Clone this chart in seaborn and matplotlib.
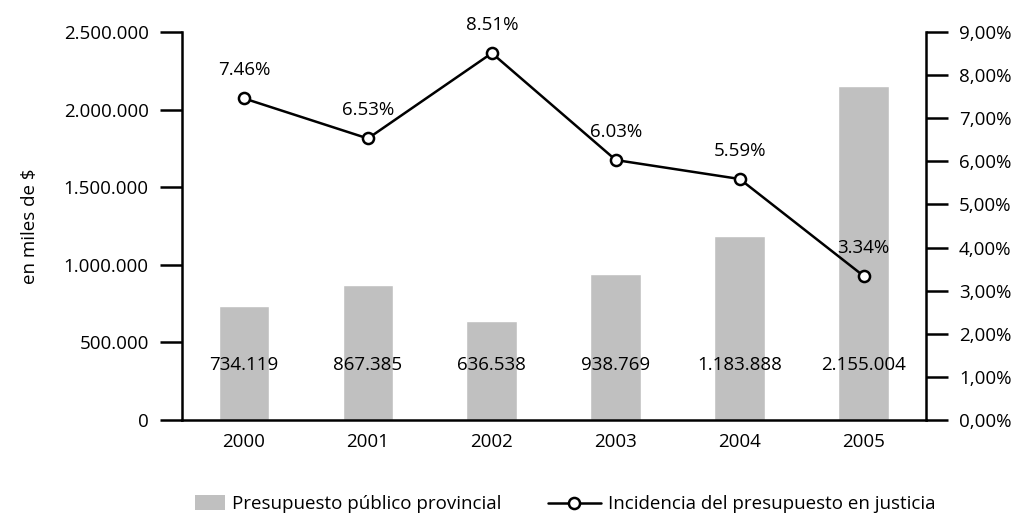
import matplotlib
matplotlib.use('Agg')
import matplotlib.pyplot as plt
import seaborn as sns
import numpy as np
import pandas as pd
from matplotlib.patches import Patch
from matplotlib.lines import Line2D

# data
years = ['2000', '2001', '2002', '2003', '2004', '2005']
presupuesto = [734119, 867385, 636538, 938769, 1183888, 2155004]
presupuesto_labels = ['734.119', '867.385', '636.538', '938.769', '1.183.888', '2.155.004']
incidencia = [7.46, 6.53, 8.51, 6.03, 5.59, 3.34]
left_ticks = [0, 500000, 1000000, 1500000, 2000000, 2500000]
left_ticklabels = ['0', '500.000', '1.000.000', '1.500.000', '2.000.000', '2.500.000']
right_ticks = [0, 1, 2, 3, 4, 5, 6, 7, 8, 9]
right_ticklabels = ['0,00%', '1,00%', '2,00%', '3,00%', '4,00%', '5,00%',
                    '6,00%', '7,00%', '8,00%', '9,00%']

df = pd.DataFrame({'year': years, 'presupuesto': presupuesto, 'incidencia': incidencia})

FS = 13.5
sns.set_style('white')
plt.rcParams['font.family'] = ['Open Sans', 'DejaVu Sans']
plt.rcParams['font.size'] = FS
plt.rcParams['text.color'] = 'black'
plt.rcParams['axes.labelcolor'] = 'black'
plt.rcParams['xtick.color'] = 'black'
plt.rcParams['ytick.color'] = 'black'

fig = plt.figure(figsize=(10.15, 5.17), dpi=100)
ax = fig.add_axes([0.1793, 0.1876, 0.7327, 0.7505])

sns.barplot(data=df, x='year', y='presupuesto', color='#c0c0c0', width=0.41,
            saturation=1, ax=ax, zorder=1)
ax.set_xlim(-0.5, 5.5)
ax.set_ylim(0, 2500000)
ax.set_yticks(left_ticks)
ax.set_yticklabels(left_ticklabels)
ax.set_xlabel('')
ax.set_ylabel('en miles de $', labelpad=18)
ax.tick_params(axis='y', length=16, width=1.8, color='black', pad=8, labelsize=FS)
ax.tick_params(axis='x', length=0, pad=9, labelsize=FS)
for s in ['top', 'right']:
    ax.spines[s].set_visible(False)
for s in ['left', 'bottom']:
    ax.spines[s].set_linewidth(1.8)
    ax.spines[s].set_color('black')

# values inside the bars, all at the same height
for i, lab in enumerate(presupuesto_labels):
    ax.text(i, 0.142, lab, transform=ax.get_xaxis_transform(),
            ha='center', va='center', fontsize=FS)

ax2 = ax.twinx()
sns.pointplot(data=df, x='year', y='incidencia', color='black', markers='o',
              linewidth=1.8, markersize=8, ax=ax2)
for ln in ax2.lines:
    ln.set_markerfacecolor('white')
    ln.set_markeredgecolor('black')
    ln.set_markeredgewidth(1.8)
    ln.set_zorder(5)
ax2.set_xlim(-0.5, 5.5)
ax2.set_ylim(0, 9)
ax2.set_yticks(right_ticks)
ax2.set_yticklabels(right_ticklabels)
ax2.set_ylabel('')
ax2.set_xlabel('')
ax2.tick_params(axis='y', length=16, width=1.8, color='black', pad=8, labelsize=FS)
for s in ['top', 'left', 'bottom']:
    ax2.spines[s].set_visible(False)
ax2.spines['right'].set_visible(True)
ax2.spines['right'].set_linewidth(1.8)
ax2.spines['right'].set_color('black')

for i, v in enumerate(incidencia):
    ax2.annotate(f'{v:.2f}%', (i, v), xytext=(0, 14), textcoords='offset points',
                 ha='center', va='bottom', fontsize=FS)

# two separate legends, the patch key is short, the line key long
leg1 = fig.legend([Patch(facecolor='#c0c0c0', edgecolor='none')],
                  ['Presupuesto público provincial'],
                  loc='center left', bbox_to_anchor=(0.192, 0.025), frameon=False,
                  fontsize=FS, handlelength=1.6, handleheight=0.85,
                  handletextpad=0.37, borderpad=0, borderaxespad=0)
leg2 = fig.legend([Line2D([], [], color='black', lw=1.8, marker='o', markersize=8,
                          markerfacecolor='white', markeredgewidth=1.8)],
                  ['Incidencia del presupuesto en justicia'],
                  loc='center left', bbox_to_anchor=(0.540, 0.025), frameon=False,
                  fontsize=FS, handlelength=2.8, handletextpad=0.42,
                  borderpad=0, borderaxespad=0)

fig.savefig('out.png', dpi=100)
